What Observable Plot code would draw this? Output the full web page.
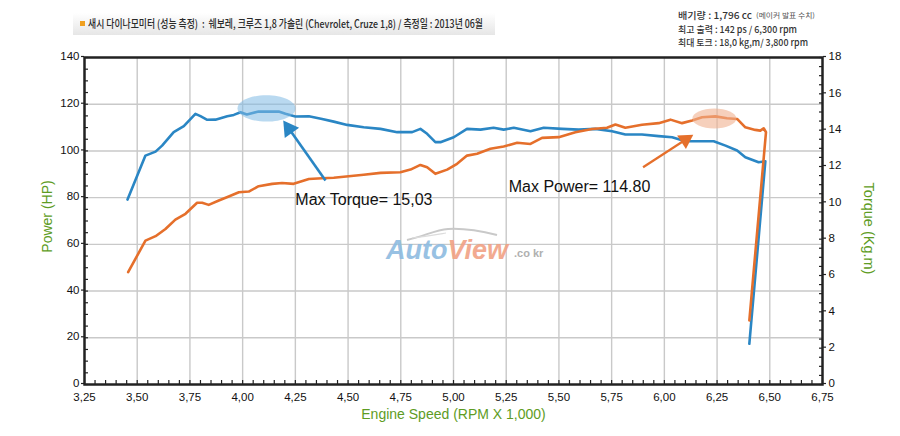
<!DOCTYPE html>
<html><head><meta charset="utf-8">
<script src="https://cdn.jsdelivr.net/npm/d3@7"></script>
<script src="https://cdn.jsdelivr.net/npm/@observablehq/plot@0.6"></script>
<style>
body{margin:0;background:#fff;}
#wrap{position:relative;width:900px;height:436px;overflow:hidden;font-family:"Noto Sans CJK KR","Liberation Sans",sans-serif;}
#chart svg{position:absolute;left:0;top:0;}
.fit{position:absolute;white-space:nowrap;transform-origin:0 50%;display:inline-block;line-height:1;}
#bar{position:absolute;left:73px;top:13px;width:422px;height:22px;background:linear-gradient(#ffffff,#e6e6e6);}
#sq{position:absolute;left:80px;top:21px;width:5px;height:5px;background:#f0a020;}
.wm{position:absolute;font-family:"Liberation Sans",Arial,sans-serif;font-weight:bold;font-style:italic;white-space:nowrap;line-height:1;opacity:0.9;}
#swoosh{position:absolute;left:400px;top:222px;}
</style></head><body>
<div id="wrap">
  <div id="chart"></div>
  <div id="bar"></div>
  <div id="sq"></div>
  <span class="fit" data-w="395" style="left:88px;top:18px;font-size:11px;color:#2a2a2a;font-weight:500">새시 다이나모미터 (성능 측정) &nbsp;: &nbsp;쉐보레, 크루즈 1,8 가솔린 (Chevrolet, Cruze 1,8) / 측정일 : 2013년 06월</span>
  <span class="fit" data-w="74" style="left:678px;top:11px;font-size:9.5px;color:#333;font-weight:500">배기량 : 1,796 cc</span>
  <span class="fit" data-w="59" style="left:756px;top:12px;font-size:7px;color:#555">(메이커 발표 수치)</span>
  <span class="fit" data-w="119" style="left:678px;top:24.5px;font-size:9.5px;color:#333;font-weight:500">최고 출력 : 142 ps / 6,300 rpm</span>
  <span class="fit" data-w="130" style="left:678px;top:38px;font-size:9.5px;color:#333;font-weight:500">최대 토크 : 18,0 kg,m/ 3,800 rpm</span>
  <svg id="swoosh" width="110" height="26"><path d="M7,18 C25,14 35,8 48,7 C65,6 85,10 97,13" stroke="#c9c9c9" stroke-width="2" fill="none"/><path d="M12,16 C30,14 40,12 46,11" stroke="#dcdcdc" stroke-width="1.2" fill="none"/></svg>
  <span class="wm" style="left:386px;top:237px;font-size:27px;"><span style="color:#8dbbe0">Auto</span><span style="color:#f1a184">View</span></span>
  <span class="wm" style="left:514px;top:248px;font-size:11px;font-style:normal;color:#a8a8a8">.co kr</span>
</div>
<script>
// ---- data ----
const torqueRpm = [3.454,3.539,3.587,3.618,3.673,3.721,3.776,3.800,3.832,3.871,3.927,3.958,3.990,4.020,4.076,4.124,4.171,4.203,4.250,4.314,4.377,4.432,4.496,4.574,4.654,4.733,4.804,4.843,4.875,4.914,4.938,5.001,5.064,5.128,5.190,5.238,5.286,5.365,5.428,5.515,5.594,5.673,5.752,5.815,5.894,5.973,6.037,6.100,6.179,6.234,6.290,6.345,6.384,6.447,6.479,6.403];
const torqueKgm = [10.18,12.60,12.82,13.15,13.89,14.22,14.90,14.77,14.57,14.58,14.77,14.84,14.99,14.86,15.03,15.02,15.03,14.90,14.75,14.77,14.62,14.47,14.29,14.16,14.07,13.89,13.89,14.07,13.80,13.34,13.34,13.61,14.07,14.03,14.13,14.03,14.13,13.94,14.13,14.07,14.03,14.07,13.94,13.76,13.76,13.67,13.61,13.39,13.39,13.39,13.15,12.88,12.51,12.23,12.29,2.24];
const powerRpm = [3.457,3.539,3.587,3.634,3.681,3.729,3.784,3.808,3.839,3.887,3.934,3.982,4.029,4.076,4.140,4.187,4.242,4.314,4.377,4.432,4.574,4.654,4.748,4.796,4.843,4.875,4.914,4.970,5.017,5.064,5.112,5.175,5.238,5.302,5.365,5.420,5.499,5.578,5.657,5.728,5.768,5.815,5.894,5.973,6.029,6.084,6.132,6.179,6.242,6.297,6.345,6.384,6.431,6.455,6.471,6.482,6.403];
const powerHp = [48.1,61.6,63.5,66.6,70.6,73.1,77.8,77.8,76.9,78.8,80.5,82.3,82.6,84.9,85.9,86.3,85.9,88.0,88.3,88.5,89.8,90.6,90.9,92.0,94.0,93.0,90.2,92.0,94.5,98.0,98.8,100.9,101.9,103.5,103.0,105.6,105.9,108.0,109.4,109.9,111.3,109.9,111.2,111.9,113.4,111.9,113.0,114.4,114.8,114.0,113.7,110.1,109.0,108.7,109.7,108.0,27.4];

// ---- ticks ----
const xLabelTicks = [3.25,3.50,3.75,4.00,4.25,4.50,4.75,5.00,5.25,5.50,5.75,6.00,6.25,6.50,6.75];
const xGridTicks = [3.50,3.75,4.00,4.25,4.50,4.75,5.00,5.25,5.50,5.75,6.00,6.25,6.50];
const xMinorTicks = d3.range(0,71).map(i => +(3.25 + i*0.05).toFixed(2));
const yLabelTicks = [0,20,40,60,80,100,120,140];
const yGridTicks = [20,40,60,80,100,120];
const yMinorTicks = d3.range(0,29).map(i => i*5);
const rLabelTicks = [0,2,4,6,8,10,12,14,16,18];
const rMinorTicks = d3.range(0,37).map(i => i*0.5);

// ---- annotations ----
const annoText = ["Max Torque= 15,03", "Max Power= 114.80"];
const annoTextRpm = [4.25, 5.262];
const annoTextHp = [79.0, 84.8];
const ellRpm = [4.113, 6.237];
const ellHp = [118.2, 113.9];
const arrowFromRpm = [4.393, 5.899];
const arrowFromHp = [87.3, 93.0];
const arrowHeadRpm = [4.220, 6.100];
const arrowHeadHp = [109.5, 104.8];
const arrowAngle = [-35, 57];

const K = 140/18; // aligns the right (kg.m) axis with the left (HP) axis
const power = powerRpm.map((r,i) => ({rpm:r, v:powerHp[i]}));
const torque = torqueRpm.map((r,i) => ({rpm:r, v:torqueKgm[i]*K}));

const blue = "#2a86c4", orange = "#e56f2b", green = "#5e9c24";

function ellipseSymbol(aspect){
  return {draw(ctx, size){
    const rx = Math.sqrt(size/Math.PI), ry = rx/aspect, k = 0.5523;
    ctx.moveTo(rx,0);
    ctx.bezierCurveTo(rx, ry*k, rx*k, ry, 0, ry);
    ctx.bezierCurveTo(-rx*k, ry, -rx, ry*k, -rx, 0);
    ctx.bezierCurveTo(-rx, -ry*k, -rx*k, -ry, 0, -ry);
    ctx.bezierCurveTo(rx*k, -ry, rx, -ry*k, rx, 0);
    ctx.closePath();
  }};
}

const ff = "Liberation Sans, Arial, sans-serif";
const chart = Plot.plot({
  width:900, height:436,
  marginLeft:84, marginRight:78, marginTop:57, marginBottom:52,
  style:{fontFamily:ff, fontSize:"12px", color:"#111", background:"transparent"},
  x:{domain:[3.25,6.75], label:null},
  y:{domain:[0,140], label:null},
  marks:[
    Plot.gridX(xGridTicks, {stroke:"#c9c9c9", strokeOpacity:1, strokeWidth:1.4}),
    Plot.gridY(yGridTicks, {stroke:"#c9c9c9", strokeOpacity:1, strokeWidth:1.4}),
    Plot.axisX(xMinorTicks, {tickSize:-4, stroke:"#222", strokeWidth:1.2, fill:"none", label:null}),
    Plot.axisX(xLabelTicks, {tickSize:0, tickPadding:8, label:null, fill:"#111", fontSize:11.5,
      tickFormat: d => d.toFixed(2).replace(".", ",")}),
    Plot.axisY(yMinorTicks, {anchor:"left", tickSize:-4, stroke:"#222", strokeWidth:1.2, fill:"none", label:null}),
    Plot.axisY(yLabelTicks, {anchor:"left", tickSize:3, tickPadding:2, stroke:"#222", strokeWidth:1.2, label:null, fill:"#111", fontSize:11.5, dy:-1}),
    Plot.axisY(rMinorTicks.map(t => t*K), {anchor:"right", tickSize:-4, stroke:"#222", strokeWidth:1.2, fill:"none", label:null}),
    Plot.axisY(rLabelTicks.map(t => t*K), {anchor:"right", tickSize:3, tickPadding:3, stroke:"#222", strokeWidth:1.2, label:null, fill:"#111", fontSize:11.5, dy:-1,
      tickFormat: d => String(Math.round(d/K))}),
    Plot.line(torque, {x:"rpm", y:"v", stroke:blue, strokeWidth:2.6}),
    Plot.line(power, {x:"rpm", y:"v", stroke:orange, strokeWidth:2.6}),
    Plot.dot([0], {x:ellRpm[0], y:ellHp[0], r:29, symbol:ellipseSymbol(2.2), fill:"#7fb9e3", fillOpacity:0.55, stroke:"none"}),
    Plot.dot([0], {x:ellRpm[1], y:ellHp[1], r:22, symbol:ellipseSymbol(2.2), fill:"#f0b090", fillOpacity:0.6, stroke:"none"}),
    Plot.link([0], {x1:arrowFromRpm[0], y1:arrowFromHp[0], x2:arrowHeadRpm[0], y2:arrowHeadHp[0], stroke:blue, strokeWidth:2.6}),
    Plot.link([0], {x1:arrowFromRpm[1], y1:arrowFromHp[1], x2:arrowHeadRpm[1], y2:arrowHeadHp[1], stroke:orange, strokeWidth:2.2}),
    Plot.dot([0], {x:arrowHeadRpm[0], y:arrowHeadHp[0], r:6.5, symbol:"triangle", rotate:arrowAngle[0], fill:blue, stroke:"none"}),
    Plot.dot([0], {x:arrowHeadRpm[1], y:arrowHeadHp[1], r:6, symbol:"triangle", rotate:arrowAngle[1], fill:orange, stroke:"none"}),
    Plot.text(annoText, {x:(d,i) => annoTextRpm[i], y:(d,i) => annoTextHp[i], text:d => d, textAnchor:"start", fontSize:16, fill:"#111"}),
    Plot.frame({stroke:"#222", strokeWidth:2.5}),
    Plot.text(["Power (HP)"], {frameAnchor:"left", textAnchor:"middle", dx:-37, dy:-4.5, rotate:-90, text:d => d, fill:green, fontSize:14}),
    Plot.text(["Torque (Kg.m)"], {frameAnchor:"right", textAnchor:"middle", dx:46, dy:7.5, rotate:90, text:d => d, fill:green, fontSize:14.5}),
    Plot.text(["Engine Speed (RPM X 1,000)"], {frameAnchor:"bottom", dy:34, text:d => d, fill:green, fontSize:14})
  ]
});
document.getElementById("chart").appendChild(chart);

// fit header texts to the widths measured on the reference
function fitTexts(){
  document.querySelectorAll(".fit").forEach(el => {
    el.style.transform = "none";
    const w = el.getBoundingClientRect().width;
    const target = +el.dataset.w;
    if (w > 0) el.style.transform = `scaleX(${target / w})`;
  });
}
fitTexts();
if (document.fonts && document.fonts.ready) document.fonts.ready.then(fitTexts);
window.addEventListener("load", fitTexts);
</script>
</body></html>
